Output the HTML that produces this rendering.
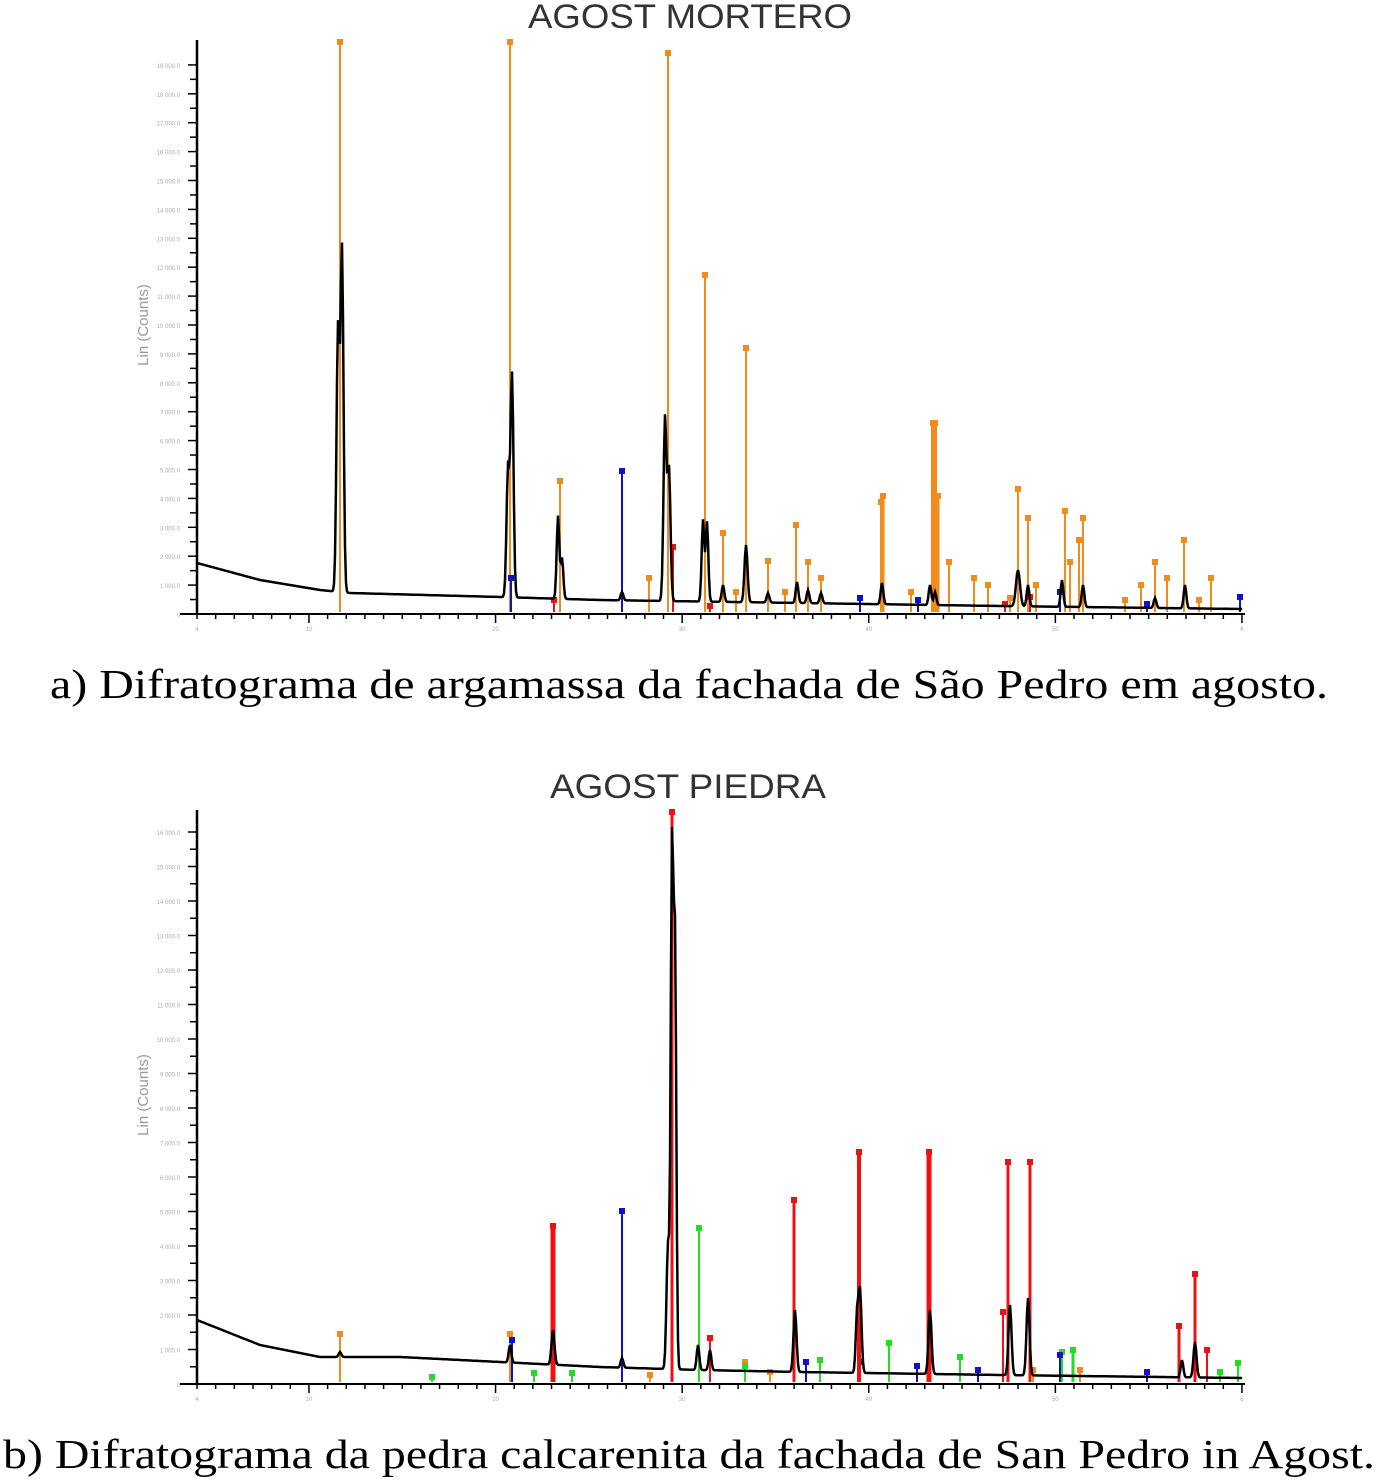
<!DOCTYPE html>
<html><head><meta charset="utf-8"><style>
body{margin:0;background:#fff;width:1376px;height:1480px;overflow:hidden}
svg{position:absolute;left:0;top:0}
</style></head><body>
<svg id="s" width="1376" height="1480" xmlns="http://www.w3.org/2000/svg">
<text x="528" y="28" textLength="324" lengthAdjust="spacingAndGlyphs" font-family="Liberation Sans, sans-serif" font-size="34" fill="#333">AGOST MORTERO</text>
<text x="550" y="798" textLength="276" lengthAdjust="spacingAndGlyphs" font-family="Liberation Sans, sans-serif" font-size="34" fill="#333">AGOST PIEDRA</text>
<text x="50" y="698" textLength="1278" lengthAdjust="spacingAndGlyphs" font-family="Liberation Serif, serif" font-size="41" fill="#000">a) Difratograma de argamassa da fachada de São Pedro em agosto.</text>
<text x="3" y="1468" textLength="1372" lengthAdjust="spacingAndGlyphs" font-family="Liberation Serif, serif" font-size="41" fill="#000">b) Difratograma da pedra calcarenita da fachada de San Pedro in Agost.</text>
<text transform="translate(148,325) rotate(-90)" text-anchor="middle" font-family="Liberation Sans, sans-serif" font-size="15" fill="#999">Lin (Counts)</text>
<text transform="translate(148,1095) rotate(-90)" text-anchor="middle" font-family="Liberation Sans, sans-serif" font-size="15" fill="#999">Lin (Counts)</text>
<g id="g"></g>
</svg>
<script>
var g=document.getElementById('g'),h='';
function ln(x1,y1,x2,y2,c,w){h+='<line x1="'+x1+'" y1="'+y1+'" x2="'+x2+'" y2="'+y2+'" stroke="'+c+'" stroke-width="'+w+'"/>';}
function tx(x,y,t,s){h+='<text x="'+x+'" y="'+y+'" font-family="Liberation Sans, sans-serif" font-size="'+s+'" fill="#aaa" text-anchor="end">'+t+'</text>';}
function interp(pts,x){for(var i=0;i<pts.length-1;i++){if(x<=pts[i+1][0]){var t=(x-pts[i][0])/(pts[i+1][0]-pts[i][0]);return pts[i][1]+t*(pts[i+1][1]-pts[i][1]);}}return pts[pts.length-1][1];}
function chart(top,bot,nlab,step,base,peaks,sticks){
 ln(197,top,197,bot,'#000',2.5);ln(180,bot,1245,bot,'#000',2);
 for(var i=0;i<=nlab;i++){var y=bot-i*step;ln(188,y,197,y,'#000',1.5);if(i<nlab)ln(190,y-step/2,197,y-step/2,'#000',1.5);tx(180,y+3,i==0?'0':(i*1000).toLocaleString('en').replace(',',' ')+'.0',6);}
 for(var d=4;d<=60;d++){var x=197+(d-4)*18.66;ln(x,bot,x,bot+(d%10==0?9:5),'#000',1.5);}
 [4,10,20,30,40,50,60].forEach(function(d){var x=197+(d-4)*18.66;h+='<text x="'+x+'" y="'+(bot+17)+'" font-family="Liberation Sans" font-size="6" fill="#aaa" text-anchor="middle">'+(d==60?'6':d)+'</text>';});
 sticks.forEach(function(s){var w=s[3]||2;ln(s[0],s[1]+2,s[0],bot-2,s[2],w);h+='<rect x="'+(s[0]-3)+'" y="'+(s[1]-3)+'" width="6" height="6" fill="'+s[2]+'"/>';});
 var d='';for(var x=197;x<=1242;x+=1){var y=interp(base,x);peaks.forEach(function(p){var dy=interp(base,p[0])-p[1];var k=Math.abs(x-p[0]);y-=dy*Math.exp(-k*k/(2*(p[2]||1.3)*(p[2]||1.3)));});d+=(x==197?'M':'L')+x+' '+y.toFixed(1);}
 h+='<path d="'+d+'" fill="none" stroke="#000" stroke-width="2.5"/>';
}
var O='#f28a1c',B='#1010d0',R='#ee1111',G='#22dd22';
chart(40,614,19,28.9,[[197,563],[260,580],[320,590],[350,593],[500,597],[600,600],[800,603],[1000,606],[1242,609]],
[[338,330,1.5],[342,250,1.5],[508,470,1.5],[512,375,1.5],[558,516],[562,558],[622,592],[665,418,1.5],[669,470,1.5],[703,520],[707,522],[723,585],[746,545,1.5],[768,593],[797,582],[808,590],[821,593],[882,583],[930,585],[935,592],[1018,570,2],[1028,585],[1062,580],[1083,585],[1185,585],[1155,598]],
[[340,42,O],[510,42,O],[560,481,O],[668,53,O],[705,275,O],[723,533,O],[746,348,O],[768,561,O],[796,525,O],[808,562,O],[821,578,O],[649,578,O],[736,592,O],[785,592,O],[883,496,O,3],[881,502,O],[911,592,O],[933,423,O,4],[935,423,O,4],[938,496,O,3],[949,562,O],[974,578,O],[988,585,O],[1018,489,O],[1028,518,O],[1036,585,O],[1065,511,O],[1070,562,O],[1079,540,O],[1083,518,O],[1125,600,O],[1141,585,O],[1155,562,O],[1167,578,O],[1184,540,O],[1199,600,O],[1211,578,O],[1010,598,O],
[622,471,B],[511,578,B],[860,598,B],[918,600,B],[1060,592,B],[1147,604,B],[1240,597,B],[673,547,R],[554,600,R],[710,606,R],[1005,604,R],[1030,597,R]]);
chart(810,1384,16,34.5,[[197,1320],[260,1345],[320,1357],[400,1357],[500,1362],[600,1367],[700,1370],[800,1372],[1000,1375],[1242,1378]],
[[340,1352],[510,1345],[553,1330,1.5],[622,1358],[668,1245,1.5],[672,860,1.3],[675,950,1.3],[698,1345],[710,1350],[795,1310,1.5],[857,1318],[860,1290,1.5],[930,1310,1.5],[1010,1305,1.5],[1028,1298,1.5],[1195,1342,1.5],[1182,1360]],
[[340,1334,O],[510,1334,O],[745,1362,O],[1033,1370,O],[1080,1370,O],[650,1375,O],[770,1372,O],
[699,1228,G],[889,1343,G],[820,1360,G],[745,1366,G],[960,1357,G],[1062,1352,G],[1073,1350,G,3],[1238,1363,G],[432,1377,G],[534,1373,G],[572,1373,G],[1220,1372,G],
[622,1211,B],[512,1340,B],[806,1362,B],[860,1362,B],[917,1366,B],[978,1370,B],[1060,1355,B],[1147,1372,B],
[553,1226,R,5],[672,812,R,3],[710,1338,R],[794,1200,R,3],[859,1152,R,4],[929,1152,R,5],[1008,1162,R,3],[1030,1162,R,3],[1003,1312,R],[1179,1326,R,3],[1195,1274,R,3],[1207,1350,R]]);
g.innerHTML=h;
</script>
</body></html>
